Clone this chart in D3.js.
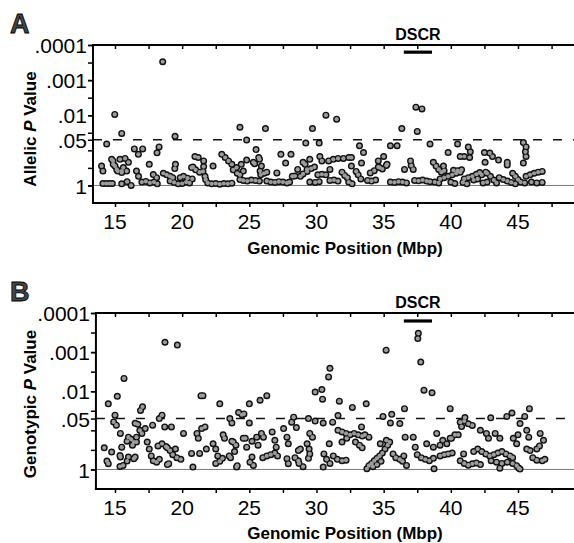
<!DOCTYPE html>
<html lang="en">
<head>
  <meta charset="UTF-8">
  <title>Allelic and genotypic P values</title>

  <style>
    body { margin: 0; background: #ffffff; }
    svg { display: block; font-family: "Liberation Sans", Arial, sans-serif; }
    .frame { stroke: #000; stroke-width: 2; }
    .one-line { stroke: #777; stroke-width: 1; }
    .sig-line { stroke: #111; stroke-width: 1.4; stroke-dasharray: 9, 11; }
    .tick line { stroke: #000; stroke-width: 1.5; }
    .tick text { font-size: 21px; fill: #000; font-family: "Liberation Sans", Arial, sans-serif; }
    .halo { fill: #111; }
    .core { fill: #9c9c9c; }
    .title { font-weight: bold; font-size: 17px; }
    .panel-letter { font-weight: bold; font-size: 27px; fill: #444; stroke: #000; stroke-width: 0.8; }
  </style>

  <script type="text/javascript" src="https://d3js.org/d3.v7.min.js"></script>
</head>

<body>
</body>

<script type="text/javascript">

  // x axis: genomic position (Mbp)
  var xTicks = [15, 20, 25, 30, 35, 40, 45];
  var xMinorTicks = [15, 17.5, 20, 22.5, 25, 27.5, 30, 32.5, 35, 37.5, 40, 42.5, 45, 47.5];

  // y axis: P value, log scale
  var yTickValues = [0.0001, 0.001, 0.01, 0.05, 1];
  var yTickLabels = [".0001", ".001", ".01", ".05", "1"];
  var yMinorTicks = [0.0001, 0.000316, 0.001, 0.00316, 0.01, 0.0316, 0.1, 0.316, 1];

  var dscrRegion = [36.5, 38.6];

  // [position Mbp, allelic P]
  var allelic = [
    [18.55,0.0003],[14.98,0.0095],[15.5,0.033],[14.38,0.066],[19.47,0.04],
    [16.44,0.091],[16.74,0.13],[17.06,0.091],[18.28,0.08],[18.13,0.118],
    [14.75,0.18],[14.87,0.25],[15.13,0.35],[15.5,0.39],[15.62,0.31],[15.37,0.18],[15.75,0.17],[16.0,0.22],
    [14.0,0.28],[14.1,0.39],[17.55,0.25],[19.5,0.25],[19.45,0.33],
    [20.95,0.15],[21.2,0.16],[21.6,0.2],[21.6,0.29],[20.7,0.31],
    [30.7,0.01],[24.3,0.022],[26.2,0.024],[29.7,0.024],[24.8,0.051],[29.2,0.062],[30.2,0.062],
    [25.5,0.095],[25.7,0.16],[25.4,0.24],[25.9,0.28],[25.8,0.39],[24.8,0.19],
    [27.35,0.13],[28.1,0.13],[27.7,0.23],
    [22.95,0.13],[23.2,0.16],[23.45,0.2],[23.7,0.25],[24.05,0.31],[24.4,0.25],[24.55,0.39],
    [29.15,0.25],[29.5,0.18],[29.3,0.35],[30.25,0.15],[30.4,0.2],[28.6,0.35],[28.4,0.54],
    [31.5,0.013],[36.35,0.024],[37.4,0.0059],[37.85,0.0066],[37.5,0.029],[38.45,0.066],
    [35.5,0.074],[36.0,0.074],[33.2,0.074],[33.5,0.116],[40.5,0.066],[41.3,0.081],[39.8,0.116],
    [40.7,0.15],[41.0,0.15],[41.4,0.16],[41.45,0.11],[42.5,0.116],[42.9,0.12],[43.1,0.15],[43.55,0.19],
    [44.2,0.22],[44.2,0.26],[45.4,0.06],[45.6,0.08],[45.55,0.11],[45.6,0.15],[45.4,0.23],[42.55,0.22],
    [30.9,0.2],[31.25,0.18],[31.6,0.17],[32.0,0.17],[32.4,0.16],[32.6,0.16],[31.0,0.35],
    [34.6,0.2],[35.0,0.15],[35.25,0.25],[36.55,0.35],[37.0,0.2],[37.2,0.35],[37.05,0.27],
    [39.45,0.28],
    [14.1,0.88],[14.35,0.88],[14.6,0.88],[14.8,0.88],
    [14.85,0.2],[15.0,0.28],[15.2,0.39],[15.5,0.43],[15.87,0.39],
    [15.5,0.9],[15.9,0.78],[16.2,1.0],[16.6,0.39],[16.75,0.55],
    [17.0,0.8],[17.3,0.77],[17.6,0.85],[17.9,0.8],[18.15,0.9],[17.85,0.49],[18.1,0.6],
    [18.6,0.45],[18.85,0.5],[19.1,0.55],[19.3,0.6],
    [19.1,0.75],[19.4,0.82],[19.7,0.9],[20.0,0.88],[20.3,0.8],[20.55,0.85],
    [19.85,0.6],[20.1,0.55],[20.4,0.62],[20.75,0.65],
    [20.8,0.3],[21.0,0.36],[21.3,0.42],[21.55,0.4],[21.7,0.55],[21.75,0.68],
    [21.9,0.85],[22.2,0.9],[22.5,0.88],[22.8,0.92],[23.1,0.88],[23.4,0.9],[23.7,0.86],
    [22.3,0.28],[23.8,0.36],[24.1,0.45],[24.3,0.5],[24.3,0.68],
    [24.55,0.72],[24.85,0.75],[25.15,0.7],[25.45,0.72],[25.75,0.75],
    [25.3,0.22],[25.75,0.18],[25.85,0.5],[26.1,0.45],[26.3,0.42],
    [26.3,0.75],[26.6,0.8],[26.9,0.82],[27.2,0.78],[27.5,0.8],[27.8,0.85],[28.0,0.8],
    [27.05,0.44],[28.2,0.55],
    [28.8,0.55],[29.0,0.47],[29.3,0.4],[29.6,0.33],[29.85,0.3],[29.0,0.22],
    [29.5,0.8],[29.9,0.82],[30.2,0.78],[30.1,0.5],[30.4,0.48],[30.7,0.5],
    [31.0,0.72],[31.3,0.7],[31.6,0.75],[31.9,0.42],[32.1,0.52],[32.3,0.6],
    [32.4,0.8],[32.65,0.9],[32.6,0.28],[32.95,0.4],[33.1,0.5],[33.3,0.65],[33.35,0.23],
    [33.8,0.72],[34.1,0.75],[34.4,0.7],[34.0,0.44],[34.3,0.38],[34.6,0.3],[34.7,0.31],
    [34.9,0.34],[35.2,0.27],
    [35.5,0.8],[35.8,0.82],[36.1,0.78],[36.4,0.8],[36.7,0.85],
    [37.3,0.72],[37.6,0.74],[37.9,0.7],[38.2,0.75],[38.45,0.78],
    [38.7,0.22],[38.9,0.28],[39.1,0.35],[39.3,0.42],[39.5,0.38],
    [39.2,0.65],[39.5,0.6],[39.8,0.55],[40.1,0.5],[40.4,0.45],[40.7,0.42],
    [40.2,0.37],[40.5,0.38],[40.8,0.36],
    [41.0,0.65],[41.3,0.6],[41.6,0.55],[41.9,0.48],[42.15,0.43],
    [41.7,0.7],[42.0,0.65],[42.3,0.5],[42.6,0.42],[42.7,0.45],[42.95,0.55],[43.2,0.7],
    [43.6,0.6],[43.9,0.68],[44.2,0.75],[44.6,0.45],[44.8,0.55],[45.0,0.68],
    [45.6,0.55],[45.9,0.5],[46.2,0.45],[46.5,0.42],[46.8,0.4],
    [46.0,0.8],[46.4,0.85],[46.8,0.82],
    [38.8,0.8],[39.1,0.85],[40.0,0.8],[40.3,0.88],[40.9,0.82],[41.2,0.9],[42.4,0.85],
    [42.7,0.8],[43.4,0.85],[44.5,0.82],[44.8,0.9],[45.2,0.8],[45.5,0.85]
  ];

  // [position Mbp, genotypic P]
  var genotypic = [
    [18.72,0.00056],[19.64,0.00066],[15.67,0.0047],[15.17,0.0135],[14.5,0.021],
    [21.4,0.013],[21.55,0.013],[22.8,0.021],[25.0,0.021],[25.8,0.017],[26.3,0.013],
    [17.05,0.025],[16.9,0.031],[15.0,0.041],[14.9,0.061],[15.1,0.074],
    [18.5,0.041],[18.3,0.05],[18.7,0.082],[19.2,0.082],[17.8,0.074],
    [16.7,0.07],[16.85,0.1],[17.0,0.12],[16.6,0.15],[17.25,0.09],[16.5,0.066],[15.4,0.12],
    [16.0,0.15],[16.2,0.17],[16.4,0.2],[16.6,0.2],[16.3,0.24],[15.9,0.19],
    [14.2,0.28],[14.75,0.36],[14.4,0.61],[14.5,0.71],
    [15.37,0.44],[15.37,0.84],[15.9,0.61],[16.4,0.53],
    [15.5,0.27],[15.4,0.48],[16.0,0.48],[16.5,0.48],[15.6,0.79],
    [17.4,0.2],[17.55,0.3],[17.7,0.45],[17.85,0.6],[18.1,0.65],[18.3,0.55],
    [18.9,0.28],[19.1,0.33],[19.3,0.42],[19.6,0.5],[19.9,0.55],[19.5,0.3],
    [19.0,0.71],[18.9,0.75],[20.1,0.12],[20.7,0.39],[21.3,0.39],[20.8,0.87],
    [21.1,0.12],[21.2,0.16],[21.7,0.082],[21.45,0.09],
    [18.2,0.25],[18.5,0.22],[18.8,0.26],
    [22.3,0.22],[22.5,0.3],[22.65,0.45],[22.8,0.62],[22.5,0.7],[21.8,0.3],
    [23.7,0.19],[24.0,0.24],[23.5,0.45],[24.1,0.8],
    [23.05,0.13],[23.15,0.16],[23.8,0.2],[23.0,0.52],[23.6,0.5],[23.9,0.35],[24.05,0.87],
    [23.55,0.05],[23.7,0.065],[24.2,0.035],[24.45,0.04],[24.6,0.038],
    [25.0,0.065],[24.55,0.16],[24.8,0.27],[25.2,0.48],[25.3,0.79],[25.05,0.65],
    [24.7,0.16],[25.2,0.19],[25.9,0.12],
    [25.55,0.15],[25.65,0.24],[26.05,0.15],
    [26.0,0.5],[26.3,0.45],[26.6,0.42],[26.9,0.38],[27.1,0.45],
    [26.7,0.11],[26.9,0.18],[27.0,0.27],[27.55,0.09],[27.8,0.15],[27.9,0.22],
    [27.8,0.53],[27.9,0.71],[28.65,0.33],
    [28.15,0.062],[28.3,0.046],[28.4,0.5],[28.7,0.7],
    [37.58,0.00033],[37.54,0.00045],[37.76,0.0018],[35.18,0.00089],
    [31.0,0.0026],[30.9,0.0043],[29.9,0.0105],[30.4,0.0091],[30.45,0.016],[31.7,0.018],
    [32.67,0.026],[33.7,0.021],[38.0,0.0094],[38.6,0.011],[36.55,0.028],[39.95,0.028],[45.85,0.028],
    [44.55,0.036],[44.17,0.044],[42.97,0.048],[45.5,0.044],
    [45.15,0.067],[45.65,0.1],[45.8,0.15],[45.0,0.13],[46.65,0.12],[46.9,0.18],
    [34.95,0.044],[35.6,0.039],[35.5,0.065],[36.2,0.067],
    [29.4,0.05],[29.9,0.058],[30.5,0.065],[31.2,0.062],[31.6,0.042],[28.5,0.085],
    [31.6,0.1],[31.9,0.11],[32.2,0.12],[32.5,0.13],[32.8,0.12],[33.1,0.13],[33.4,0.14],[33.6,0.13],[33.9,0.15],
    [31.9,0.2],[32.25,0.16],[33.35,0.082],[32.9,0.2],[33.2,0.24],[33.4,0.28],
    [29.5,0.12],[29.7,0.15],[30.95,0.22],[28.8,0.3],[30.5,0.87],
    [29.3,0.22],[29.45,0.3],[29.5,0.4],[29.4,0.52],[28.65,0.6],[29.0,0.85],
    [30.55,0.4],[30.75,0.55],[31.0,0.7],[31.25,0.45],[31.55,0.55],[31.9,0.6],[32.2,0.58],
    [33.75,0.96],
    [33.9,0.8],[34.1,0.7],[34.3,0.6],[34.5,0.52],[34.7,0.45],[34.9,0.38],[35.1,0.3],
    [35.3,0.24],[35.45,0.2],[34.2,0.85],[34.5,0.75],[34.8,0.62],
    [34.75,0.22],[35.2,0.18],
    [35.7,0.4],[35.9,0.5],[36.2,0.55],[36.5,0.45],[36.4,0.62],
    [36.6,0.15],[37.2,0.15],[36.7,0.79],[37.35,0.27],
    [37.5,0.42],[37.8,0.5],[38.1,0.55],[38.4,0.6],[38.7,0.52],
    [38.2,0.22],[38.75,0.96],[38.95,0.12],[39.2,0.24],[38.7,0.27],[39.4,0.18],[39.7,0.22],
    [40.05,0.16],[40.55,0.13],[40.3,0.13],[39.95,0.16],
    [39.2,0.45],[39.5,0.42],[39.8,0.4],[40.1,0.38],
    [40.7,0.062],[41.0,0.058],[41.3,0.068],[41.6,0.075],[41.05,0.047],[40.8,0.08],
    [40.95,0.4],[40.7,0.6],[41.0,0.7],[41.3,0.78],[41.6,0.72],[41.9,0.68],[42.2,0.75],
    [42.2,0.1],[42.65,0.12],[42.8,0.16],[43.3,0.12],[43.65,0.16],
    [41.7,0.35],[42.0,0.3],[42.3,0.35],[42.6,0.4],[42.9,0.45],[43.2,0.42],[43.5,0.38],
    [43.8,0.35],[44.1,0.4],[44.4,0.45],[44.6,0.5],
    [43.0,0.6],[43.4,0.65],[43.8,0.7],[44.2,0.65],[44.6,0.7],[44.9,0.8],[45.05,0.92],[43.65,0.93],
    [44.65,0.16],[44.9,0.22],[45.65,0.3],[45.9,0.33],[46.4,0.3],[46.6,0.25],[45.15,0.98],
    [46.1,0.5],[46.4,0.58],[46.8,0.6],[47.0,0.55]
  ];

  var width = 574, height = 543;

  var svg = d3.select("body")
    .append("svg")
    .attr("width", width)
    .attr("height", height);

  var x = d3.scaleLinear().domain([15, 45]).range([115, 518]);

  drawPanel({
    letter: "A", letterY: 33, top: 45, bottom: 203, xStart: 13.36,
    tickLabelY: 229, titleY: 254, yTitle: "Allelic", yTitleY: 129, dscrY: 40,
    data: allelic
  });
  drawPanel({
    letter: "B", letterY: 301, top: 313, bottom: 489, xStart: 13.58,
    tickLabelY: 515, titleY: 539, yTitle: "Genotypic", yTitleY: 404, dscrY: 308,
    data: genotypic
  });

  function drawPanel(cfg) {
    var y = d3.scaleLog().domain([Math.sqrt(10), 0.0001]).range([cfg.bottom, cfg.top]);
    var x0 = x(cfg.xStart), x1 = width;
    var g = svg.append("g");

    g.append("line").attr("class", "one-line")
      .attr("x1", x0).attr("x2", x1).attr("y1", y(1)).attr("y2", y(1));
    g.append("line").attr("class", "sig-line")
      .attr("x1", x0).attr("x2", x1).attr("y1", y(0.05)).attr("y2", y(0.05));

    // dark halo first, grey core on top, so touching points merge into one outline
    var pts = g.append("g");
    pts.selectAll("circle.halo").data(cfg.data).enter()
      .append("circle").attr("class", "halo")
      .attr("r", 3.5)
      .attr("cx", function(d) { return x(d[0]); })
      .attr("cy", function(d) { return y(d[1]); });
    pts.selectAll("circle.core").data(cfg.data).enter()
      .append("circle").attr("class", "core")
      .attr("r", 2.1)
      .attr("cx", function(d) { return x(d[0]); })
      .attr("cy", function(d) { return y(d[1]); });

    // DSCR bar
    g.append("line")
      .attr("x1", x(dscrRegion[0])).attr("x2", x(dscrRegion[1]))
      .attr("y1", y(0.00016)).attr("y2", y(0.00016))
      .attr("stroke", "#000").attr("stroke-width", 3.2);
    g.append("text")
      .attr("x", x((dscrRegion[0] + dscrRegion[1]) / 2)).attr("y", cfg.dscrY)
      .attr("text-anchor", "middle")
      .attr("font-weight", "bold").attr("font-size", 16)
      .text("DSCR");

    // left axis: minor ticks then labelled ticks
    g.append("g").attr("transform", "translate(" + x0 + ",0)")
      .call(d3.axisLeft(y).tickValues(yMinorTicks).tickSize(5).tickFormat(""))
      .call(function(s) { s.select(".domain").remove(); });
    g.append("g").attr("transform", "translate(" + x0 + ",0)")
      .call(d3.axisLeft(y).tickValues(yTickValues).tickSize(5).tickPadding(1)
        .tickFormat(function(d, i) { return yTickLabels[i]; }))
      .call(function(s) {
        s.select(".domain").remove();
        s.attr("font-size", null).attr("font-family", null);
        s.selectAll("text").attr("dy", "0.36em");
      });

    // top ticks point into the plot
    g.append("g").attr("transform", "translate(0," + cfg.top + ")")
      .call(d3.axisTop(x).tickValues(xMinorTicks).tickSize(-4).tickFormat(""))
      .call(function(s) { s.select(".domain").remove(); });

    // bottom ticks + labels
    g.append("g").attr("transform", "translate(0," + cfg.bottom + ")")
      .call(d3.axisBottom(x).tickValues(xMinorTicks).tickSize(4).tickFormat(""))
      .call(function(s) { s.select(".domain").remove(); });
    g.selectAll("text.xlab").data(xTicks).enter()
      .append("text").attr("class", "xlab")
      .attr("x", function(d) { return x(d); })
      .attr("y", cfg.tickLabelY)
      .attr("text-anchor", "middle")
      .attr("font-size", 21)
      .text(function(d) { return d; });

    // frame
    g.append("line").attr("class", "frame")
      .attr("x1", x0).attr("x2", x0).attr("y1", cfg.top).attr("y2", cfg.bottom);
    g.append("line").attr("class", "frame")
      .attr("x1", x0 - 1).attr("x2", x1).attr("y1", cfg.top).attr("y2", cfg.top);
    g.append("line").attr("class", "frame")
      .attr("x1", x0 - 1).attr("x2", x1).attr("y1", cfg.bottom).attr("y2", cfg.bottom);

    // titles
    g.append("text").attr("class", "title")
      .attr("x", 345).attr("y", cfg.titleY)
      .attr("text-anchor", "middle")
      .text("Genomic Position (Mbp)");

    var yt = g.append("text").attr("class", "title")
      .attr("font-size", 16)
      .attr("text-anchor", "middle")
      .attr("transform", "translate(36," + cfg.yTitleY + ") rotate(-90)");
    yt.append("tspan").text(cfg.yTitle + " ");
    yt.append("tspan").attr("font-style", "italic").text("P");
    yt.append("tspan").text(" Value");

    g.append("text").attr("class", "panel-letter")
      .attr("x", 10).attr("y", cfg.letterY)
      .text(cfg.letter);
  }

</script>

</html>
